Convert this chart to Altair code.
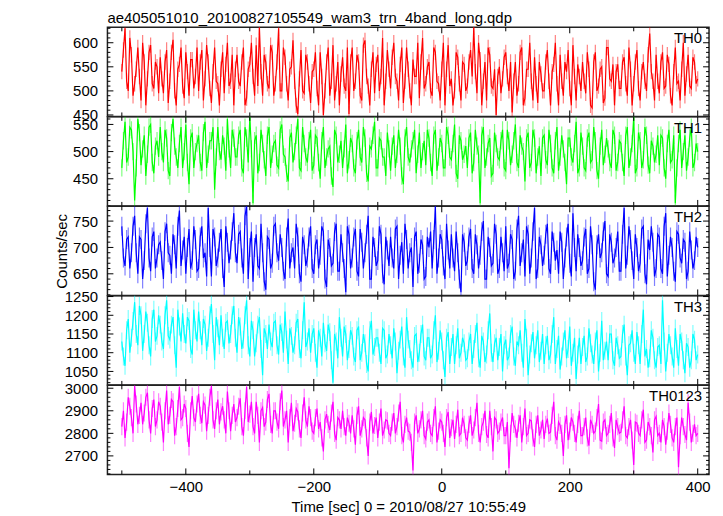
import altair as alt
import pandas as pd

TITLE = "ae405051010_20100827105549_wam3_trn_4band_long.qdp"
X_TITLE = "Time [sec] 0 = 2010/08/27 10:55:49"
Y_TITLE = "Counts/sec"

T_START = -500
T_STEP = 5          # main samples every 5 s, half-step samples in between
X_DOMAIN = [-522.5, 417.7]
X_LABELS = [-400, -200, 0, 200, 400]
X_MINOR = [-500, -300, -100, 100, 300]

NAMES = ["TH0", "TH1", "TH2", "TH3", "TH0123"]
COLORS = ["#ff0000", "#00ff00", "#0000ff", "#00ffff", "#ff00ff"]
ERRS = [16, 16, 18, 24, 38]
Y_DOMAINS = [[447, 632], [400, 564], [609, 778], [1014, 1252], [2618, 3013]]
Y_LABELS = [[450, 500, 550, 600], [450, 500, 550], [650, 700, 750],
            [1050, 1100, 1150, 1200, 1250], [2700, 2800, 2900, 3000]]
Y_MINOR_STEP = [10, 10, 10, 10, 20]

TH0 = [
    540, 630, 500, 575, 515, 590, 480, 560, 525, 595, 505, 550,
    570, 495, 585, 520, 606, 470, 555, 510, 580, 490, 565, 530,
    500, 585, 525, 560, 475, 590, 515, 545, 495, 600, 520, 470,
    575, 510, 590, 485, 555, 530, 595, 632, 490, 560, 505, 580,
    515, 630, 500, 570, 480, 550, 520, 452, 585, 495, 560, 475,
    545, 505, 580, 450, 560, 490, 595, 515, 470, 570, 500, 452,
    590, 520, 560, 480, 605, 510, 545, 495, 575, 530, 470, 585,
    505, 600, 520, 555, 475, 590, 500, 565, 530, 485, 610, 515,
    560, 490, 580, 515, 545, 470, 595, 525, 500, 570, 480, 555,
    510, 585, 632, 495, 565, 520, 480, 575, 505, 450, 550, 525,
    580, 500, 455, 560, 515, 590, 485, 545, 520, 570, 475, 535,
    500, 585, 470, 555, 515, 575, 490, 540, 505, 595, 480, 530,
    560, 495, 545, 465, 580, 510, 550, 485, 590, 520, 470, 555,
    505, 570, 490, 545, 515, 585, 480, 560, 500, 619, 520, 575,
    495, 580, 510, 555, 470, 590, 520, 545, 490, 575, 505, 560,
    525,
]
TH0_HALF = [
    585, 520, 610, 490, 545, 530, 600, 470, 580, 515, 560, 495,
    525, 560, 475, 580, 500, 545, 590, 485, 540, 565, 505, 590,
    560, 480, 595, 505, 540, 520, 470, 580, 555, 510, 575, 545,
    520, 560, 470, 545, 600, 490, 510, 540, 575, 515, 595, 490,
    560, 500, 590, 515, 545, 605, 470, 525, 500, 575, 515, 540,
    580, 470, 530, 500, 590, 520, 480, 560, 535, 510, 590, 560,
    500, 575, 490, 595, 530, 470, 580, 555, 500, 610, 520, 545,
    570, 530, 480, 590, 520, 545, 470, 530, 600, 560, 505, 550,
    500, 590, 520, 480, 600, 545, 510, 470, 580, 515, 560, 500,
    560, 530, 540, 600, 470, 560, 590, 510, 545, 530, 495, 570,
    530, 560, 520, 490, 580, 470, 545, 600, 480, 515, 560, 500,
    560, 520, 540, 600, 470, 520, 560, 585, 470, 530, 555, 500,
    520, 580, 470, 560, 500, 545, 475, 590, 525, 555, 540, 505,
    560, 515, 590, 470, 560, 505, 540, 520, 575, 540, 480, 520,
    560, 505, 575, 490, 540, 515, 480, 600, 535, 510, 570, 515,
]
TH1 = [
    470, 555, 490, 540, 410, 560, 475, 530, 495, 550, 460, 520,
    545, 480, 525, 455, 560, 490, 515, 470, 550, 440, 535, 500,
    530, 465, 555, 495, 520, 430, 545, 485, 510, 560, 470, 525,
    490, 540, 460, 525, 564, 405, 530, 480, 515, 455, 545, 495,
    520, 470, 550, 490, 445, 535, 500, 560, 465, 515, 480, 540,
    475, 525, 450, 545, 490, 510, 435, 530, 495, 470, 550, 485,
    515, 460, 540, 480, 525, 445, 505, 555, 470, 520, 490, 535,
    465, 530, 495, 510, 440, 545, 480, 520, 460, 535, 500, 475,
    525, 455, 540, 490, 515, 470, 530, 485, 550, 450, 520, 495,
    470, 535, 480, 510, 405, 545, 490, 525, 460, 515, 485, 540,
    465, 520, 495, 550, 470, 510, 445, 535, 480, 525, 490, 455,
    530, 475, 515, 460, 545, 490, 505, 440, 525, 480, 555, 470,
    510, 465, 535, 485, 520, 450, 540, 495, 505, 470, 530, 480,
    515, 455, 545, 490, 564, 470, 520, 485, 530, 460, 510, 495,
    475, 525, 450, 540, 485, 405, 515, 470, 530, 490, 545, 480,
    500,
]
TH1_HALF = [
    520, 480, 545, 500, 470, 535, 505, 455, 545, 480, 510, 490,
    500, 540, 465, 535, 510, 470, 545, 500, 480, 525, 470, 515,
    480, 535, 470, 520, 545, 490, 500, 530, 465, 505, 540, 490,
    530, 470, 545, 480, 505, 520, 460, 540, 485, 530, 470, 515,
    475, 540, 495, 460, 525, 480, 530, 470, 545, 490, 520, 465,
    530, 480, 520, 470, 505, 455, 540, 480, 520, 505, 460, 525,
    470, 520, 490, 545, 460, 510, 530, 470, 525, 490, 455, 505,
    510, 470, 540, 455, 525, 490, 505, 540, 495, 470, 520, 540,
    480, 530, 465, 525, 470, 545, 490, 515, 460, 530, 485, 510,
    525, 460, 540, 495, 530, 470, 515, 455, 535, 490, 520, 470,
    540, 475, 520, 480, 530, 500, 525, 470, 540, 460, 510, 525,
    485, 540, 470, 520, 465, 530, 480, 525, 490, 515, 460, 535,
    470, 525, 480, 545, 465, 510, 475, 525, 480, 540, 465, 520,
    480, 530, 470, 515, 460, 535, 470, 545, 475, 520, 480, 530,
    530, 470, 515, 480, 530, 470, 540, 500, 465, 525, 470, 515,
]
TH2 = [
    740, 665, 720, 690, 760, 650, 715, 675, 775, 655, 730, 680,
    710, 640, 745, 685, 725, 660, 770, 695, 650, 735, 675, 715,
    660, 740, 690, 775, 645, 720, 680, 735, 625, 710, 695, 765,
    670, 730, 650, 778, 700, 635, 725, 660, 690, 620, 715, 670,
    745, 675, 700, 640, 755, 690, 660, 720, 635, 705, 680, 740,
    650, 715, 685, 730, 625, 700, 670, 745, 655, 690, 615, 725,
    680, 735, 645, 710, 690, 760, 640, 700, 675, 725, 630, 695,
    720, 660, 740, 685, 650, 715, 690, 625, 730, 670, 705, 645,
    700, 660, 778, 680, 715, 640, 695, 725, 655, 690, 615, 710,
    675, 735, 650, 705, 685, 750, 640, 700, 670, 725, 660, 690,
    740, 670, 715, 655, 760, 690, 645, 725, 680, 775, 660, 705,
    685, 745, 650, 710, 695, 730, 640, 720, 670, 765, 655, 700,
    675, 735, 660, 705, 620, 725, 690, 750, 645, 710, 680, 730,
    655, 775, 685, 715, 640, 700, 670, 740, 630, 695, 710, 660,
    720, 650, 765, 685, 700, 635, 725, 670, 710, 655, 695, 675,
    700,
]
TH2_HALF = [
    680, 715, 660, 740, 690, 720, 640, 745, 680, 720, 660, 705,
    675, 730, 690, 650, 705, 740, 665, 720, 700, 660, 740, 655,
    720, 680, 645, 700, 735, 665, 710, 660, 740, 670, 730, 690,
    725, 680, 760, 640, 730, 700, 665, 745, 635, 720, 660, 740,
    690, 725, 655, 720, 660, 700, 745, 650, 720, 665, 720, 660,
    705, 660, 740, 640, 715, 665, 730, 655, 725, 660, 740, 660,
    720, 655, 735, 660, 725, 640, 720, 665, 740, 650, 720, 665,
    680, 735, 640, 710, 745, 660, 700, 720, 650, 715, 640, 720,
    730, 715, 650, 725, 665, 745, 660, 680, 730, 640, 725, 665,
    720, 660, 725, 660, 730, 640, 720, 665, 745, 650, 720, 655,
    660, 725, 640, 735, 665, 715, 740, 650, 730, 640, 720, 665,
    725, 660, 730, 675, 650, 710, 680, 745, 645, 700, 725, 665,
    720, 650, 740, 635, 705, 680, 730, 650, 725, 670, 700, 655,
    725, 660, 740, 675, 725, 655, 735, 650, 715, 740, 645, 725,
    660, 740, 645, 720, 655, 730, 680, 715, 640, 730, 660, 720,
]
TH3 = [
    1130, 1065, 1190, 1140, 1235, 1120, 1200, 1150, 1180, 1090, 1215, 1145,
    1175, 1110, 1240, 1135, 1195, 1060, 1170, 1205, 1125, 1185, 1095, 1160,
    1210, 1120, 1175, 1140, 1230, 1080, 1165, 1200, 1110, 1185, 1150, 1225,
    1100, 1170, 1135, 1240, 1090, 1160, 1125, 1195, 1040, 1150, 1175, 1115,
    1185, 1095, 1155, 1210, 1070, 1145, 1120, 1190, 1085, 1235, 1130, 1100,
    1165, 1060, 1140, 1180, 1105, 1155, 1020, 1130, 1195, 1090, 1150, 1110,
    1145, 1075, 1170, 1100, 1125, 1050, 1185, 1115, 1140, 1070, 1160, 1095,
    1120, 1165, 1045, 1135, 1090, 1195, 1110, 1060, 1150, 1100, 1175, 1080,
    1140, 1095, 1200, 1105, 1130, 1035, 1155, 1115, 1070, 1165, 1100, 1125,
    1085, 1150, 1110, 1180, 1060, 1130, 1095, 1205, 1075, 1140, 1115, 1050,
    1135, 1090, 1170, 1065, 1120, 1100, 1190, 1040, 1125, 1085, 1160, 1105,
    1070, 1145, 1095, 1195, 1110, 1055, 1130, 1085, 1170, 1100, 1030, 1140,
    1115, 1075, 1165, 1095, 1130, 1050, 1185, 1105, 1080, 1150, 1065, 1120,
    1090, 1175, 1040, 1125, 1100, 1155, 1070, 1215, 1110, 1085, 1140, 1060,
    1120, 1240, 1050, 1150, 1090, 1165, 1065, 1130, 1045, 1115, 1080, 1135,
    1095,
]
TH3_HALF = [
    1090, 1160, 1100, 1185, 1150, 1225, 1105, 1210, 1120, 1190, 1130, 1200,
    1130, 1200, 1145, 1175, 1120, 1215, 1130, 1150, 1195, 1110, 1215, 1130,
    1160, 1190, 1105, 1200, 1150, 1195, 1120, 1140, 1180, 1125, 1200, 1140,
    1195, 1110, 1200, 1120, 1185, 1090, 1175, 1110, 1165, 1110, 1130, 1180,
    1120, 1175, 1100, 1135, 1165, 1100, 1180, 1110, 1160, 1115, 1165, 1150,
    1100, 1160, 1090, 1125, 1175, 1080, 1150, 1085, 1140, 1170, 1080, 1160,
    1090, 1160, 1080, 1150, 1070, 1160, 1095, 1140, 1100, 1165, 1085, 1150,
    1085, 1130, 1105, 1170, 1060, 1135, 1080, 1145, 1075, 1150, 1090, 1140,
    1085, 1160, 1075, 1160, 1080, 1140, 1070, 1150, 1120, 1085, 1140, 1080,
    1130, 1070, 1150, 1085, 1145, 1075, 1160, 1100, 1125, 1080, 1150, 1120,
    1080, 1150, 1090, 1130, 1160, 1060, 1140, 1095, 1155, 1120, 1075, 1150,
    1120, 1080, 1150, 1070, 1145, 1090, 1160, 1110, 1065, 1140, 1095, 1070,
    1145, 1090, 1125, 1070, 1160, 1100, 1080, 1130, 1150, 1080, 1140, 1085,
    1150, 1090, 1120, 1160, 1070, 1120, 1150, 1090, 1060, 1160, 1080, 1115,
    1070, 1130, 1100, 1120, 1060, 1110, 1150, 1080, 1125, 1060, 1150, 1080,
]
TH0123 = [
    2830, 2780, 2960, 2870, 3010, 2840, 2935, 2890, 2980, 2800, 2950, 2860,
    2920, 2760, 2990, 2880, 2940, 2830, 3005, 2870, 2910, 2740, 2965, 2850,
    2975, 2845, 2925, 2880, 3010, 2820, 2950, 2895, 2860, 2985, 2810, 2930,
    2870, 2955, 2790, 3005, 2885, 2830, 2940, 2760, 2915, 2850, 2975, 2800,
    2900, 2820, 2990, 2860, 2760, 2935, 2845, 2895, 2780, 2960, 2830, 2870,
    2800, 2910, 2850, 2720, 2885, 2815, 2940, 2770, 2860, 2900, 2790, 2845,
    2880, 2750, 2920, 2820, 2860, 2700, 2895, 2835, 2780, 2910, 2815, 2855,
    2790, 2890, 2830, 2940, 2760, 2870, 2805, 2635, 2880, 2820, 2900, 2775,
    2860, 2790, 2920, 2810, 2850, 2740, 2895, 2825, 2775, 2905, 2800, 2840,
    2770, 2880, 2815, 2935, 2760, 2850, 2795, 2900, 2720, 2860, 2810, 2870,
    2790, 2645, 2890, 2820, 2845, 2760, 2910, 2800, 2855, 2740, 2880, 2815,
    2775, 2865, 2805, 2940, 2770, 2835, 2700, 2880, 2810, 2850, 2760, 2900,
    2790, 2870, 2745, 2840, 2810, 2930, 2765, 2860, 2800, 2890, 2735, 2830,
    2805, 2920, 2780, 2860, 2660, 2845, 2790, 2905, 2770, 2830, 2715, 2875,
    2800, 2860, 2750, 2890, 2780, 2830, 2650, 2870, 2795, 2935, 2760, 2840,
    2800,
]
TH0123_HALF = [
    2900, 2850, 2920, 2800, 2930, 2880, 2840, 2960, 2860, 2910, 2830, 2940,
    2850, 2900, 2840, 2950, 2790, 2910, 2860, 2930, 2800, 2900, 2870, 2930,
    2880, 2940, 2810, 2960, 2860, 2900, 2840, 2920, 2800, 2900, 2880, 2850,
    2920, 2830, 2900, 2850, 2940, 2800, 2880, 2900, 2830, 2950, 2840, 2900,
    2850, 2940, 2830, 2900, 2870, 2810, 2910, 2820, 2890, 2860, 2920, 2810,
    2870, 2820, 2780, 2860, 2840, 2890, 2800, 2870, 2820, 2830, 2870, 2800,
    2820, 2880, 2790, 2870, 2780, 2850, 2800, 2870, 2850, 2790, 2860, 2800,
    2850, 2800, 2890, 2790, 2840, 2810, 2760, 2850, 2800, 2860, 2790, 2850,
    2800, 2870, 2760, 2860, 2800, 2870, 2780, 2860, 2840, 2790, 2870, 2780,
    2840, 2790, 2870, 2800, 2830, 2900, 2780, 2830, 2870, 2800, 2850, 2790,
    2850, 2800, 2840, 2780, 2880, 2830, 2790, 2860, 2780, 2840, 2790, 2860,
    2840, 2800, 2880, 2790, 2850, 2800, 2840, 2770, 2870, 2800, 2840, 2790,
    2830, 2780, 2860, 2800, 2870, 2770, 2850, 2790, 2840, 2780, 2860, 2800,
    2860, 2790, 2830, 2770, 2850, 2800, 2860, 2760, 2850, 2790, 2860, 2790,
    2760, 2830, 2810, 2840, 2760, 2870, 2790, 2830, 2770, 2850, 2800, 2790,
]
SERIES = [TH0, TH1, TH2, TH3, TH0123]
SERIES_HALF = [TH0_HALF, TH1_HALF, TH2_HALF, TH3_HALF, TH0123_HALF]

W = 605
H = 89.6
FS = 15
FONT = "Liberation Sans"
MAJ = 6
MIN = 3


def series_frame(i):
    a, b = SERIES[i], SERIES_HALF[i]
    ts, vs = [], []
    for k, v in enumerate(a):
        ts.append(T_START + T_STEP * k)
        vs.append(v)
        if k < len(b):
            ts.append(T_START + T_STEP * k + T_STEP / 2)
            vs.append(b[k])
    df = pd.DataFrame({"t": ts, "v": vs})
    df["lo"] = df["v"] - ERRS[i]
    df["hi"] = df["v"] + ERRS[i]
    return df


def panel(i):
    df = series_frame(i)
    lo_d, hi_d = Y_DOMAINS[i]
    step = Y_MINOR_STEP[i]
    first = ((lo_d + step - 1) // step) * step
    minors = [v for v in range(first, hi_d + 1, step) if v not in Y_LABELS[i]]

    xs = alt.Scale(domain=X_DOMAIN, nice=False, zero=False)
    ys = alt.Scale(domain=Y_DOMAINS[i], nice=False, zero=False)

    if i == 4:
        xaxis = alt.Axis(values=X_LABELS, ticks=False, domain=False, grid=False,
                         labelFontSize=FS, labelPadding=5, labelFlush=False,
                         labelColor="black", format="d", title=X_TITLE, titleFontSize=FS,
                         titleFontWeight="normal", titleColor="black", titlePadding=5)
    else:
        xaxis = None
    ykw = dict(values=Y_LABELS[i], ticks=False, domain=False, grid=False, format="d",
               labelFontSize=FS, labelPadding=10, labelColor="black")
    if i == 2:
        ykw.update(title=Y_TITLE, titleFontSize=FS, titleFontWeight="normal",
                   titleColor="black", titlePadding=3)
    else:
        ykw.update(title=None)
    yaxis = alt.Axis(**ykw)

    X = alt.X("t:Q", scale=xs, axis=xaxis)
    Y = alt.Y("v:Q", scale=ys, axis=yaxis)

    err = alt.Chart(df).mark_rule(color=COLORS[i], strokeWidth=1.2, opacity=0.5, clip=True).encode(
        x=X, y=alt.Y("lo:Q", scale=ys, axis=yaxis), y2="hi:Q")
    line = alt.Chart(df).mark_line(color=COLORS[i], strokeWidth=1.2, clip=True).encode(x=X, y=Y)

    ymaj = pd.DataFrame({"v": Y_LABELS[i]})
    ymin = pd.DataFrame({"v": minors})
    xmaj = pd.DataFrame({"t": X_LABELS})
    xmin = pd.DataFrame({"t": X_MINOR})
    tk = dict(color="black", strokeWidth=1)
    layers = [err, line]
    for d, ln in ((ymaj, MAJ), (ymin, MIN)):
        layers.append(alt.Chart(d).mark_rule(**tk).encode(y=Y, x=alt.value(0), x2=alt.value(ln)))
        layers.append(alt.Chart(d).mark_rule(**tk).encode(y=Y, x=alt.value(W), x2=alt.value(W - ln)))
    for d, ln in ((xmaj, MAJ), (xmin, MIN + 1)):
        layers.append(alt.Chart(d).mark_rule(**tk).encode(x=X, y=alt.value(0), y2=alt.value(ln)))
        layers.append(alt.Chart(d).mark_rule(**tk).encode(x=X, y=alt.value(H), y2=alt.value(H - ln)))
    lab = alt.Chart(pd.DataFrame({"name": [NAMES[i]]})).mark_text(
        align="right", baseline="alphabetic", fontSize=FS, font=FONT, color="black").encode(
        x=alt.value(W - 7), y=alt.value(16), text="name:N")
    layers.append(lab)
    ch = alt.layer(*layers).properties(width=W, height=H)
    if i == 0:
        ch = ch.properties(title=alt.TitleParams(TITLE, anchor="start", fontSize=FS,
                                                 fontWeight="normal", color="black",
                                                 offset=1, frame="group", font=FONT))
    return ch


chart = alt.vconcat(*[panel(i) for i in range(5)], spacing=0, bounds="flush").properties(
    padding={"left": 46, "top": 0, "right": 4, "bottom": 0}
).configure(font=FONT).configure_view(stroke="#222222", strokeWidth=1.5)

chart.save("out.html", embed_options={"renderer": "svg", "actions": False})
